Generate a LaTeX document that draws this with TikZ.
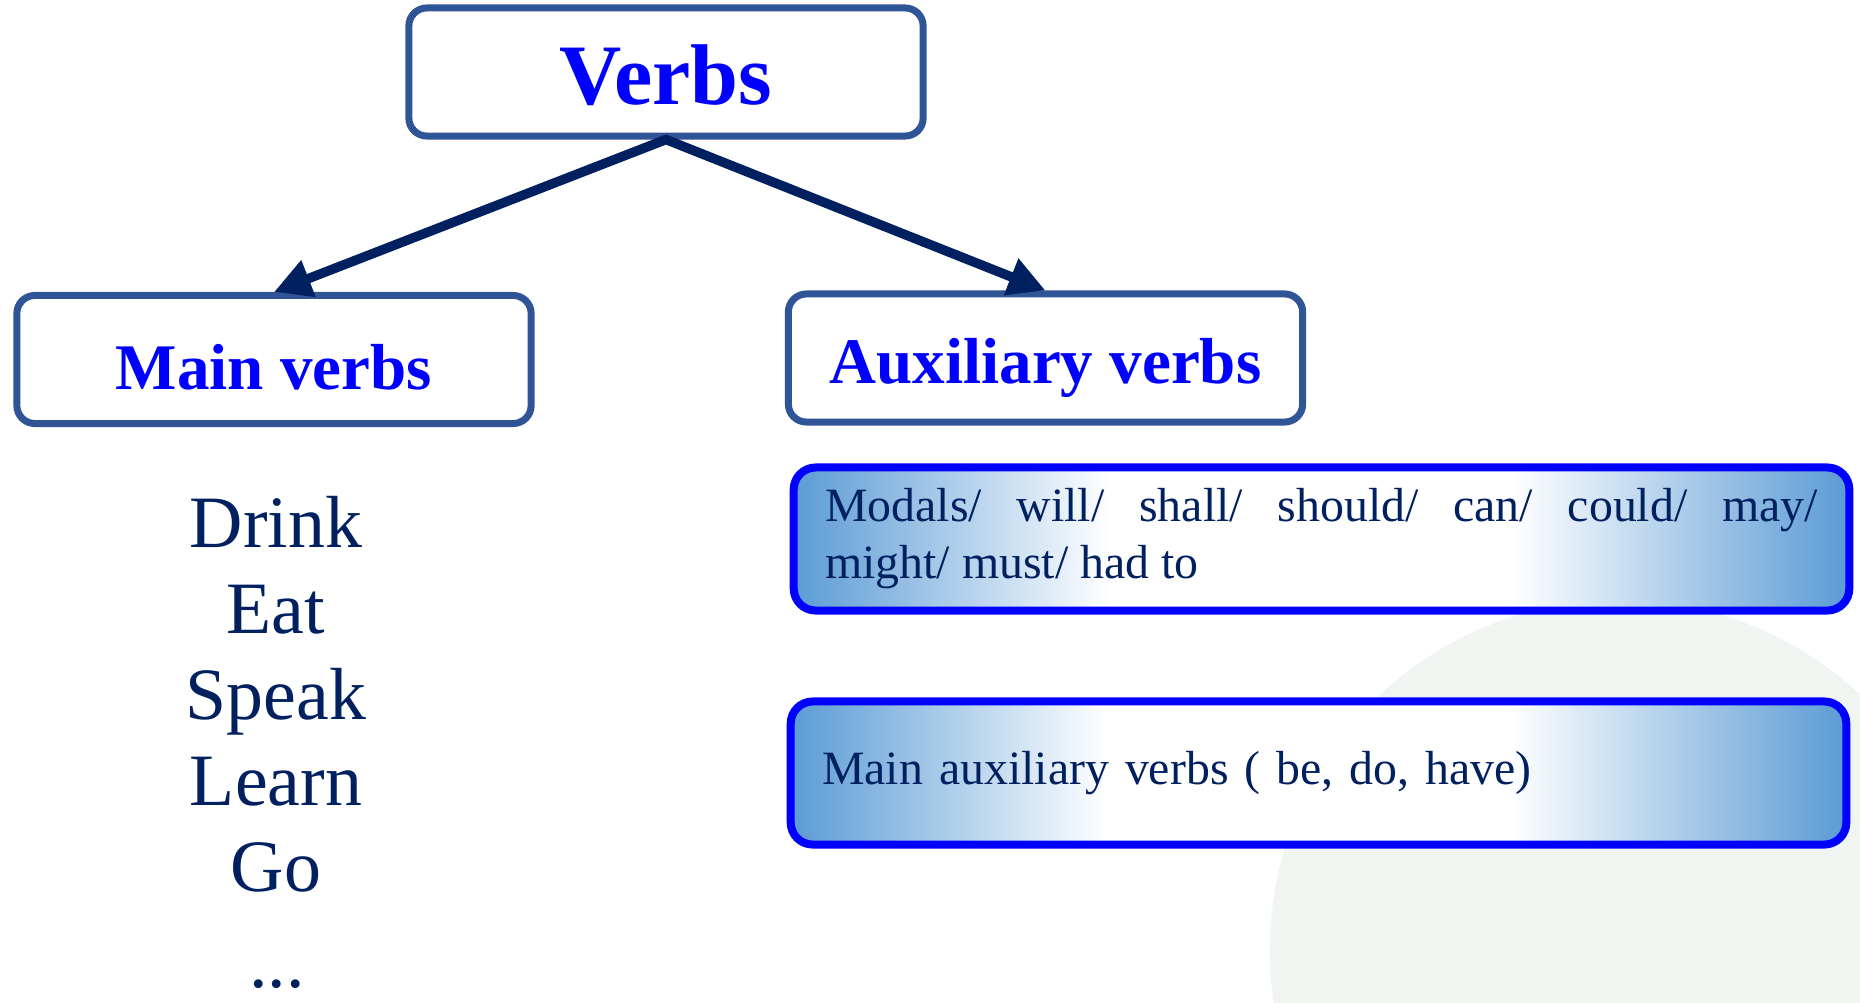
\documentclass[tikz,border=0pt]{standalone}
\usepackage{fontspec}
\setmainfont{Liberation Serif}
\usetikzlibrary{arrows.meta}

\definecolor{boxedge}{RGB}{47,85,151}
\definecolor{headblue}{RGB}{0,0,255}
\definecolor{inknavy}{RGB}{0,32,96}
\definecolor{fadeblue}{RGB}{91,155,213}
\definecolor{wmark}{RGB}{240,245,242}

\pgfdeclarehorizontalshading{bluefade}{100bp}{color(0bp)=(fadeblue); color(25bp)=(fadeblue); color(40bp)=(white); color(59bp)=(white); color(75bp)=(fadeblue); color(100bp)=(fadeblue)}

\tikzset{
  headbox/.style={draw=boxedge, line width=0.07cm, rounded corners=0.18cm, fill=white,
    text=headblue, font=\bfseries\fontsize{18.5}{22}\selectfont,
    text height=0.6cm, text depth=0pt, inner sep=0pt,
    minimum width=5.14cm, minimum height=1.28cm},
  fadebox/.style={draw=headblue, line width=0.08cm, rounded corners=0.22cm, shade, shading=bluefade,
    text=inknavy, font=\fontsize{13.6}{16.2}\selectfont,
    text width=9.92cm, inner xsep=0.3cm, minimum width=10.55cm, minimum height=1.43cm},
  listword/.style={text=inknavy, font=\fontsize{21}{25}\selectfont, anchor=base, inner sep=0pt},
  verbarrow/.style={draw=inknavy, line width=0.095cm, line join=miter,
    {Triangle[length=0.37cm,width=0.37cm]}-{Triangle[length=0.37cm,width=0.37cm]}}
}

\begin{document}
\begin{tikzpicture}[x=0.01cm,y=-0.01cm]
  \useasboundingbox (0,0) rectangle (1860,1003);

  % faint seal behind the right column
  \begin{scope}
    \clip (0,0) rectangle (1860,1003);
    \fill[wmark] (1620,950) circle [radius=3.5cm];
  \end{scope}

  \node[headbox, font=\bfseries\fontsize{24.5}{28}\selectfont, text height=0.64cm] (verbs) at (666,72) {Verbs};
  \node[headbox] (main) at (274,359.5) {Main verbs};
  \node[headbox, text height=0.5cm] (aux) at (1045.5,358) {Auxiliary verbs};

  \node[fadebox, align=justify] (modals) at (1321.5,539)
    {Modals/ will/ shall/ should/ can/ could/ may/\linebreak might/ must/ had to};
  \node[fadebox, align=left] (mainaux) at (1318.5,773) {Main auxiliary verbs ( be, do, have)};

  \foreach \w [count=\i] in {Drink,Eat,Speak,Learn,Go}
    \node[listword] (word\i) at (276,{547+86*(\i-1)}) {\w};
  \node[listword] (worddots) at (277,987) {...};

  \draw[verbarrow] (main.north) -- (verbs.south) -- (aux.north);
\end{tikzpicture}
\end{document}
